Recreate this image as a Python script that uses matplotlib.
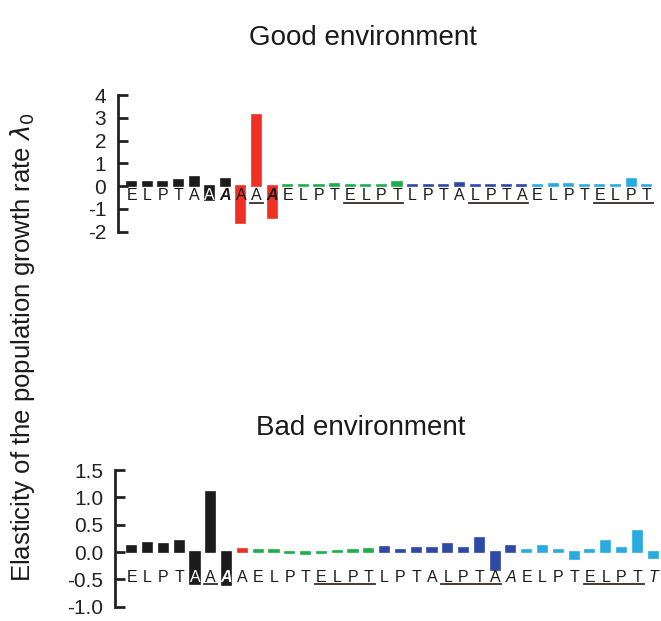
import matplotlib
matplotlib.use("Agg")
import matplotlib.pyplot as plt

plt.rcParams["font.family"] = ["Liberation Sans", "DejaVu Sans"]
plt.rcParams["axes.unicode_minus"] = False

black = "#1c1c1c"
red = "#ee3124"
green = "#1fae4b"
dblue = "#2e4aa6"
lblue = "#29abe2"

# Good environment
top_letters = list("ELPTAAAAAAELPTELPTLPTALPTAELPTELPT")
top_values = [0.2, 0.18, 0.2, 0.25, 0.38, -0.6, 0.32,
              -1.64, 3.14, -1.39,
              0.05, 0.05, 0.05, 0.1, 0.05, 0.05, 0.05, 0.2,
              0.05, 0.05, 0.05, 0.12, 0.05, 0.05, 0.05, 0.05,
              0.05, 0.09, 0.09, 0.05, 0.04, 0.05, 0.33, 0.05]
top_colors = [black] * 7 + [red] * 3 + [green] * 8 + [dblue] * 8 + [lblue] * 8
top_italic = [6, 9]
top_bold = [6, 9]
top_white = [5]
top_underline = [(8, 8), (14, 17), (22, 25), (30, 33)]
top_ticks = [-2, -1, 0, 1, 2, 3, 4]

# Bad environment
bot_letters = list("ELPTAAAAELPTELPTLPTALPTAAELPTELPTT")
bot_values = [0.12, 0.16, 0.15, 0.2, -0.58, 1.1, -0.6,
              0.06,
              0.03, 0.03, -0.02, -0.04, -0.02, 0.02, 0.04, 0.05,
              0.1, 0.04, 0.08, 0.07, 0.14, 0.08, 0.26, -0.32, 0.12,
              0.03, 0.11, 0.03, -0.12, 0.03, 0.2, 0.07, 0.38, -0.11]
bot_colors = [black] * 7 + [red] * 1 + [green] * 8 + [dblue] * 9 + [lblue] * 9
bot_italic = [6, 24, 33]
bot_bold = [6]
bot_white = [4, 6]
bot_underline = [(5, 5), (12, 15), (20, 23), (29, 32)]
bot_ticks = [-1.0, -0.5, 0.0, 0.5, 1.0, 1.5]

fig = plt.figure(figsize=(6.61, 6.21), dpi=100)
ax1 = fig.add_axes([0.1785, 0.627, 0.814, 0.220])
ax2 = fig.add_axes([0.174, 0.023, 0.826, 0.220])


def draw_panel(ax, letters, values, colors, italic, bold, white, underline,
               ticks, ylim, xlim, letter_y, line_y, fmt):
    x = list(range(len(values)))
    ax.bar(x, values, width=0.58, color=colors, edgecolor=colors,
           linewidth=1.2, zorder=2)
    for i, ch in enumerate(letters):
        style = "italic" if i in italic else "normal"
        weight = "bold" if i in bold else "normal"
        col = "white" if i in white else "#1a1a1a"
        ax.text(i, letter_y, ch, ha="center", va="center", fontsize=11.5,
                style=style, weight=weight, color=col, zorder=3)
    for a, b in underline:
        ax.plot([a - 0.4, b + 0.4], [line_y, line_y], color="#3a2a26",
                linewidth=1.3, zorder=3)
    ax.set_xlim(*xlim)
    ax.set_ylim(*ylim)
    ax.set_yticks(ticks)
    ax.set_yticklabels([fmt.format(t) for t in ticks], fontsize=15)
    ax.set_xticks([])
    for s in ["top", "right", "bottom"]:
        ax.spines[s].set_visible(False)
    ax.spines["left"].set_linewidth(2)
    ax.spines["left"].set_color("#222222")
    ax.tick_params(axis="y", direction="in", length=7, width=2,
                   colors="#222222", pad=8.5)
    ax.set_facecolor("none")


draw_panel(ax1, top_letters, top_values, top_colors, top_italic, top_bold,
           top_white, top_underline, top_ticks, (-2, 4), (-0.88, 33.6),
           -0.42, -0.75, "{:d}")
draw_panel(ax2, bot_letters, bot_values, bot_colors, bot_italic, bot_bold,
           bot_white, bot_underline, bot_ticks, (-1.0, 1.5), (-1.06, 33.5),
           -0.46, -0.58, "{:.1f}")

fig.text(0.549, 1 - 38 / 621, "Good environment", ha="center", va="center",
         fontsize=20, color="#1a1a1a")
fig.text(0.546, 1 - 428 / 621, "Bad environment", ha="center", va="center",
         fontsize=20, color="#1a1a1a")
fig.text(0.034, 1 - 347 / 621,
         r"Elasticity of the population growth rate $\lambda_0$",
         rotation=90, ha="center", va="center", fontsize=18.5,
         color="#1a1a1a")

fig.savefig("out.png", dpi=100)
